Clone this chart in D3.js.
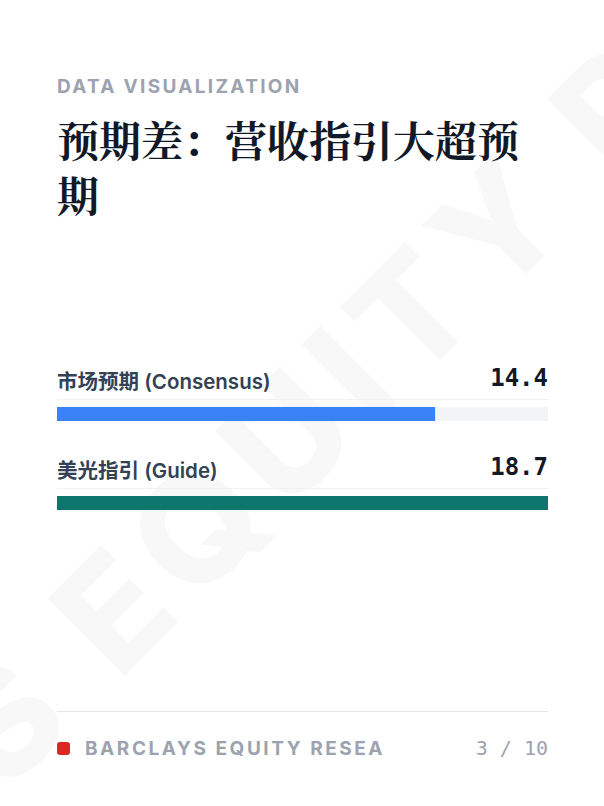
<!DOCTYPE html>
<html>
<head>
<meta charset="utf-8">
<script src="https://cdn.jsdelivr.net/npm/d3@7"></script>
<style>
  html, body { margin: 0; padding: 0; background: #fff; }
  svg { display: block; }
</style>
</head>
<body>
<div id="card"></div>
<script>
// chart values
const kicker = "DATA VISUALIZATION"
const title = "预期差：营收指引大超预期"
const labels = ["市场预期 (Consensus)", "美光指引 (Guide)"]
const values = [14.4, 18.7]
const barColors = ["#3b82f6", "#0f766e"]
const footerText = "BARCLAYS EQUITY RESEARCH"
const pageText = "3 / 10"
const watermark = "BARCLAYS EQUITY RESEARCH"

function drawCard() {
  const dimensions = {
    width: 604,
    height: 806,
    margin: { left: 57, right: 56 },
  }
  dimensions.right = dimensions.width - dimensions.margin.right

  const sans = "Inter, 'Noto Sans CJK SC', sans-serif"
  const mono = "'DejaVu Sans Mono', 'Liberation Mono', monospace"

  const svg = d3.select("#card")
    .append("svg")
      .attr("width", dimensions.width)
      .attr("height", dimensions.height)

  svg.append("rect")
    .attr("width", dimensions.width)
    .attr("height", dimensions.height)
    .attr("fill", "#ffffff")

  // faint diagonal watermark
  svg.append("text")
    .attr("transform", `translate(${dimensions.width / 2}, ${dimensions.height / 2}) rotate(-45)`)
    .attr("text-anchor", "middle")
    .attr("dy", "0.45em")
    .style("font-family", sans)
    .style("font-weight", 800)
    .style("font-size", "150px")
    .style("letter-spacing", "14px")
    .attr("fill", "#f8f8f9")
    .text(watermark)

  // header
  svg.append("text")
    .attr("x", dimensions.margin.left)
    .attr("y", 93)
    .style("font-family", sans)
    .style("font-weight", 700)
    .style("font-size", "19px")
    .style("letter-spacing", "2.3px")
    .attr("fill", "#9ca3af")
    .text(kicker)

  const titleFont = "'Noto Serif CJK SC', 'Noto Sans CJK SC', serif"
  const titleText = svg.append("text")
    .style("font-family", titleFont)
    .style("font-weight", 700)
    .style("font-size", "42px")
    .attr("fill", "#111827")

  // wrap the title by measuring it
  const maxWidth = dimensions.right - dimensions.margin.left
  let lines = [""]
  const probe = svg.append("text")
    .style("font-family", titleFont)
    .style("font-weight", 700)
    .style("font-size", "42px")
  Array.from(title).forEach(ch => {
    const tryLine = lines[lines.length - 1] + ch
    probe.text(tryLine)
    if (probe.node().getComputedTextLength() > maxWidth && lines[lines.length - 1] != "") {
      lines.push(ch)
    } else {
      lines[lines.length - 1] = tryLine
    }
  })
  probe.remove()

  titleText.selectAll("tspan")
    .data(lines)
    .join("tspan")
      .attr("x", dimensions.margin.left)
      .attr("y", (d, i) => 157 + i * 55)
      .text(d => d)

  // bars
  const xScale = d3.scaleLinear()
    .domain([0, d3.max(values)])
    .range([dimensions.margin.left, dimensions.right])

  const yScale = d3.scalePoint()
    .domain(labels)
    .range([389, 478])

  const rows = svg.selectAll(".row")
    .data(labels.map((label, i) => ({ label, value: values[i], color: barColors[i] })))
    .join("g")
      .attr("class", "row")
      .attr("transform", d => `translate(0, ${yScale(d.label)})`)

  rows.append("text")
    .attr("x", dimensions.margin.left)
    .style("font-family", sans)
    .style("font-weight", 600)
    .style("font-size", "20.5px")
    .attr("fill", "#334155")
    .text(d => d.label)

  rows.append("text")
    .attr("x", dimensions.right)
    .attr("y", -3)
    .attr("text-anchor", "end")
    .style("font-family", mono)
    .style("font-weight", 700)
    .style("font-size", "24px")
    .attr("fill", "#111827")
    .text(d => d.value.toFixed(1))

  rows.append("line")
    .attr("x1", dimensions.margin.left)
    .attr("x2", dimensions.right)
    .attr("y1", 10.5)
    .attr("y2", 10.5)
    .attr("stroke", "#f1f2f4")

  rows.append("rect")
    .attr("x", dimensions.margin.left)
    .attr("y", 18)
    .attr("width", dimensions.right - dimensions.margin.left)
    .attr("height", 14)
    .attr("fill", "#f3f4f6")

  rows.append("rect")
    .attr("x", dimensions.margin.left)
    .attr("y", 18)
    .attr("width", d => xScale(d.value) - dimensions.margin.left)
    .attr("height", 14)
    .attr("fill", d => d.color)

  // footer
  svg.append("line")
    .attr("x1", dimensions.margin.left)
    .attr("x2", dimensions.right)
    .attr("y1", 711.5)
    .attr("y2", 711.5)
    .attr("stroke", "#e5e7eb")

  svg.append("rect")
    .attr("x", dimensions.margin.left)
    .attr("y", 742)
    .attr("width", 13)
    .attr("height", 13)
    .attr("rx", 3)
    .attr("fill", "#dc2626")

  svg.append("clipPath")
    .attr("id", "footer-clip")
    .append("rect")
      .attr("x", 80)
      .attr("y", 730)
      .attr("width", 304)
      .attr("height", 40)

  svg.append("text")
    .attr("x", 85)
    .attr("y", 755)
    .attr("clip-path", "url(#footer-clip)")
    .style("font-family", sans)
    .style("font-weight", 700)
    .style("font-size", "19px")
    .style("letter-spacing", "2.55px")
    .attr("fill", "#9ca3af")
    .text(footerText)

  svg.append("text")
    .attr("x", dimensions.right)
    .attr("y", 755)
    .attr("text-anchor", "end")
    .style("font-family", mono)
    .style("font-size", "20px")
    .attr("fill", "#9ca3af")
    .text(pageText)
}
drawCard()
</script>
</body>
</html>
